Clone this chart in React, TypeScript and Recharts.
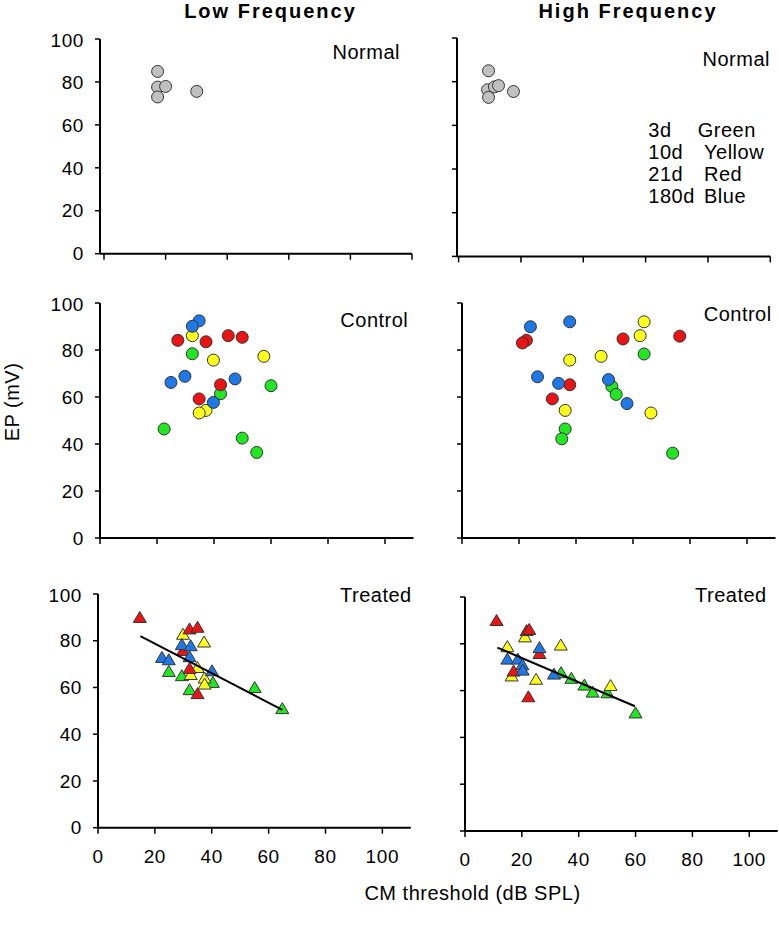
import { Scatter, ScatterChart, XAxis, YAxis } from "recharts";

const FONT = '"Liberation Sans", Arial, sans-serif';

const xTicks = [0, 20, 40, 60, 80, 100];
const yTicks = [0, 20, 40, 60, 80, 100];

const GRAY = "#c0c0c0";
const GREEN = "#22e622";
const YELLOW = "#ffff1e";
const RED = "#ea1414";
const BLUE = "#1e78e6";

type Pt = [number, number];

// Normal animals
const normalLow: Pt[] = [[17.4, 84.9], [17.4, 77.6], [20.0, 77.9], [17.4, 73.0], [30.1, 75.6]];
const normalHigh: Pt[] = [[9.6, 85.0], [9.3, 76.3], [11.5, 77.6], [12.8, 78.2], [9.6, 72.8], [17.6, 75.5]];

// Control, low frequency
const ctlLowGreen: Pt[] = [[32.4, 78.4], [42.3, 61.4], [60.0, 64.8], [22.5, 46.4], [49.9, 42.5], [55.0, 36.4]];
const ctlLowYellow: Pt[] = [[32.4, 86.1], [39.8, 75.7], [57.5, 77.3], [37.2, 54.3], [34.8, 53.2]];
const ctlLowRed: Pt[] = [[27.3, 84.1], [37.2, 83.5], [45.0, 86.1], [49.9, 85.4], [42.3, 65.2], [34.8, 59.2]];
const ctlLowBlue: Pt[] = [[34.8, 92.4], [32.4, 90.1], [24.9, 66.2], [29.8, 68.8], [47.4, 67.7], [39.8, 57.7]];

// Control, high frequency
const ctlHighGreen: Pt[] = [[63.9, 78.3], [52.6, 64.5], [54.1, 61.1], [36.2, 46.4], [35.0, 42.2], [73.9, 36.1]];
const ctlHighYellow: Pt[] = [[63.9, 92.0], [62.5, 86.1], [48.8, 77.3], [37.8, 75.7], [36.2, 54.3], [66.3, 53.2]];
const ctlHighRed: Pt[] = [[22.6, 84.1], [21.2, 83.0], [56.5, 84.7], [76.4, 85.9], [37.8, 65.2], [31.7, 59.2]];
const ctlHighBlue: Pt[] = [[24.0, 89.9], [37.8, 92.0], [26.5, 68.6], [33.9, 65.8], [51.4, 67.4], [57.9, 57.2]];

// Treated, low frequency
const trtLowGreen: Pt[] = [[24.9, 66.3], [29.5, 64.5], [40.4, 61.6], [32.2, 58.5], [55.1, 59.4], [64.8, 50.4]];
const trtLowYellow: Pt[] = [[29.9, 82.2], [37.3, 78.9], [35.0, 68.0], [32.6, 65.0], [37.5, 63.5], [37.5, 60.9]];
const trtLowRed: Pt[] = [[14.7, 89.4], [32.2, 84.5], [35.0, 85.2], [29.9, 75.3], [32.2, 67.6], [35.0, 56.8]];
const trtLowBlue: Pt[] = [[29.5, 77.8], [32.6, 77.3], [32.2, 72.6], [22.5, 72.3], [24.9, 71.3], [40.1, 66.6]];
const trtLowFit: Pt[] = [[14.9, 82.0], [64.8, 50.4]];

// Treated, high frequency
const trtHighGreen: Pt[] = [[33.8, 67.1], [37.4, 64.7], [42.0, 61.8], [44.9, 58.8], [50.1, 58.5], [60.0, 49.9]];
const trtHighYellow: Pt[] = [[21.1, 82.4], [33.7, 78.9], [14.9, 78.2], [16.4, 65.7], [25.0, 64.3], [51.2, 61.6]];
const trtHighRed: Pt[] = [[11.1, 89.4], [21.7, 85.1], [22.6, 85.6], [26.2, 75.3], [17.1, 67.8], [22.3, 56.8]];
const trtHighBlue: Pt[] = [[26.2, 77.8], [14.9, 72.9], [18.6, 72.9], [20.2, 70.5], [20.3, 68.2], [31.3, 66.5]];
const trtHighFit: Pt[] = [[11.4, 78.4], [59.8, 53.3]];

const legendRows = [
  ["3d", "Green"],
  ["10d", "Yellow"],
  ["21d", "Red"],
  ["180d", "Blue"],
];

const toData = (pts: Pt[]) => pts.map(([x, y]) => ({ x, y }));

const circle = (fill: string) => (p: any) => (
  <circle cx={p.cx} cy={p.cy} r={6} fill={fill} stroke="#333" strokeWidth={1} />
);

const triangle = (fill: string) => (p: any) => (
  <path
    d={`M${p.cx},${p.cy - 7.3}L${p.cx + 6.5},${p.cy + 3.7}L${p.cx - 6.5},${p.cy + 3.7}Z`}
    fill={fill}
    stroke="#333"
    strokeWidth={1}
  />
);

const noShape = () => <g />;
const noTick = () => <g />;

type Series = { pts: Pt[]; color: string };

type PanelSpec = {
  axisX: number;
  top: number;
  plotW: number;
  plotH: number;
  xMax: number;
  pad: number;
  yLabels: boolean;
  xLabels: boolean;
  marker: "circle" | "triangle";
  series: Series[];
  fit?: Pt[];
};

const YW = 50;
const XH = 40;
const MARGIN = { top: 10, right: 6, left: 0, bottom: 0 };

const panels: PanelSpec[] = [
  {
    axisX: 100, top: 39.3, plotW: 312, plotH: 214.7, xMax: 100, pad: 4,
    yLabels: true, xLabels: false, marker: "circle",
    series: [{ pts: normalLow, color: GRAY }],
  },
  {
    axisX: 456.7, top: 38.3, plotW: 313.3, plotH: 218.4, xMax: 100, pad: 1.6,
    yLabels: false, xLabels: false, marker: "circle",
    series: [{ pts: normalHigh, color: GRAY }],
  },
  {
    axisX: 100, top: 303.3, plotW: 313.5, plotH: 235, xMax: 110, pad: 0,
    yLabels: true, xLabels: false, marker: "circle",
    series: [
      { pts: ctlLowGreen, color: GREEN },
      { pts: ctlLowYellow, color: YELLOW },
      { pts: ctlLowRed, color: RED },
      { pts: ctlLowBlue, color: BLUE },
    ],
  },
  {
    axisX: 461.7, top: 303.3, plotW: 313.5, plotH: 235, xMax: 110, pad: 0,
    yLabels: false, xLabels: false, marker: "circle",
    series: [
      { pts: ctlHighGreen, color: GREEN },
      { pts: ctlHighYellow, color: YELLOW },
      { pts: ctlHighRed, color: RED },
      { pts: ctlHighBlue, color: BLUE },
    ],
  },
  {
    axisX: 98.3, top: 594, plotW: 312.8, plotH: 233.7, xMax: 110, pad: 0,
    yLabels: true, xLabels: true, marker: "triangle",
    series: [
      { pts: trtLowGreen, color: GREEN },
      { pts: trtLowYellow, color: YELLOW },
      { pts: trtLowRed, color: RED },
      { pts: trtLowBlue, color: BLUE },
    ],
    fit: trtLowFit,
  },
  {
    axisX: 465, top: 596.7, plotW: 312.7, plotH: 234, xMax: 110, pad: 0,
    yLabels: false, xLabels: true, marker: "triangle",
    series: [
      { pts: trtHighGreen, color: GREEN },
      { pts: trtHighYellow, color: YELLOW },
      { pts: trtHighRed, color: RED },
      { pts: trtHighBlue, color: BLUE },
    ],
    fit: trtHighFit,
  },
];

const tickStyle = { fill: "#000", fontSize: 19, fontFamily: FONT, letterSpacing: 0.6 };
const axisLine = { stroke: "#000", strokeWidth: 2 };
const tickLine = { stroke: "#000", strokeWidth: 1.5 };

const Panel = ({ p }: { p: PanelSpec }) => {
  const width = p.plotW + YW + MARGIN.right;
  const height = p.plotH + MARGIN.top + XH;
  const shape = p.marker === "circle" ? circle : triangle;
  return (
    <div style={{ position: "absolute", left: p.axisX - YW, top: p.top - MARGIN.top }}>
      <ScatterChart width={width} height={height} margin={MARGIN}>
        <XAxis
          type="number"
          dataKey="x"
          domain={[0, p.xMax]}
          ticks={xTicks}
          padding={{ left: p.pad, right: 0 }}
          height={XH}
          axisLine={axisLine}
          tickLine={tickLine}
          tickSize={6}
          tickMargin={16}
          tick={p.xLabels ? tickStyle : noTick}
        />
        <YAxis
          type="number"
          dataKey="y"
          domain={[0, 100]}
          ticks={yTicks}
          width={YW}
          axisLine={axisLine}
          tickLine={tickLine}
          tickSize={5}
          tickMargin={11}
          tick={p.yLabels ? tickStyle : noTick}
        />
        {p.series.map((s, i) => (
          <Scatter
            key={i}
            data={toData(s.pts)}
            shape={shape(s.color)}
            isAnimationActive={false}
          />
        ))}
        {p.fit && (
          <Scatter
            data={toData(p.fit)}
            line={{ stroke: "#000", strokeWidth: 2 }}
            shape={noShape}
            isAnimationActive={false}
          />
        )}
      </ScatterChart>
    </div>
  );
};

const label = { fontFamily: FONT, fontSize: 20, fill: "#000", letterSpacing: 0.5 };

const App = () => {
  return (
    <div
      style={{
        position: "absolute",
        left: 0,
        top: 0,
        width: 779,
        height: 926,
        background: "#fff",
        fontFamily: FONT,
      }}
    >
      {panels.map((p, i) => (
        <Panel key={i} p={p} />
      ))}
      <svg
        width={779}
        height={926}
        style={{ position: "absolute", left: 0, top: 0, pointerEvents: "none" }}
      >
        <text x={270.5} y={18.3} textAnchor="middle" fontFamily={FONT} fontSize={20} fontWeight="bold" letterSpacing={2}>
          Low Frequency
        </text>
        <text x={628} y={18.3} textAnchor="middle" fontFamily={FONT} fontSize={20} fontWeight="bold" letterSpacing={2}>
          High Frequency
        </text>
        <text x={400} y={59.3} textAnchor="end" {...label}>Normal</text>
        <text x={770} y={65.7} textAnchor="end" {...label}>Normal</text>
        <text x={408.3} y={326.7} textAnchor="end" {...label}>Control</text>
        <text x={771.7} y={320.7} textAnchor="end" {...label}>Control</text>
        <text x={411.7} y={601.7} textAnchor="end" {...label}>Treated</text>
        <text x={766.7} y={601.7} textAnchor="end" {...label}>Treated</text>
        {legendRows.map(([d, c], i) => (
          <g key={d}>
            <text x={648.3} y={136.7 + i * 22.2} {...label}>{d}</text>
            <text x={i === 0 ? 697.7 : 704} y={136.7 + i * 22.2} {...label}>{c}</text>
          </g>
        ))}
        <text
          transform="translate(19,402) rotate(-90)"
          textAnchor="middle"
          {...label}
        >
          EP (mV)
        </text>
        <text x={472.5} y={900} textAnchor="middle" {...label}>
          CM threshold (dB SPL)
        </text>
      </svg>
    </div>
  );
};

export default App;
